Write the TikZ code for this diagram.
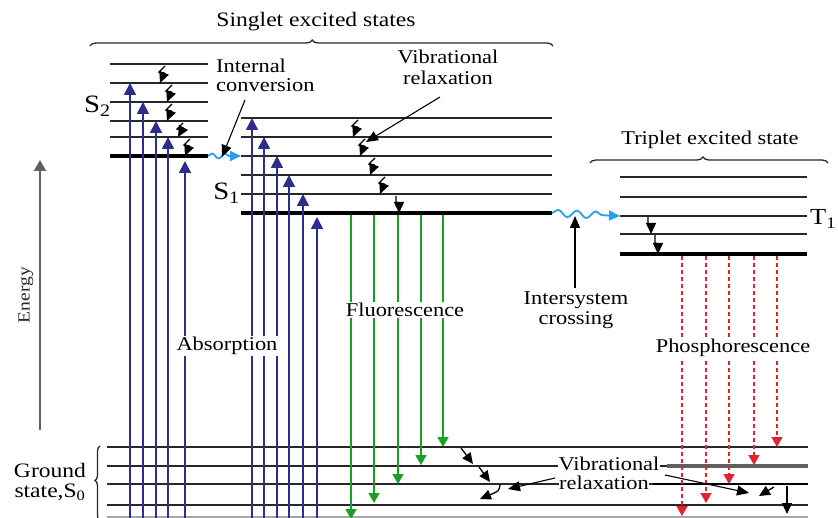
\documentclass[tikz,border=0pt]{standalone}
\usepackage{fontspec}
\setmainfont[FakeStretch=1.15]{Liberation Serif}
\usetikzlibrary{arrows.meta,decorations.pathmorphing,decorations.pathreplacing,calc}

\definecolor{absblue}{RGB}{45,45,140}
\definecolor{flgreen}{RGB}{25,160,40}
\definecolor{phred}{RGB}{225,35,45}
\definecolor{iscblue}{RGB}{40,160,235}
\definecolor{lvlgray}{RGB}{40,40,40}

\tikzset{
  lvl/.style={draw=lvlgray, line width=1.4pt},
  lvlthick/.style={draw=black, line width=3.4pt},
  absarrow/.style={draw=absblue, line width=1.7pt, -{Triangle[width=12pt,length=12pt]}},
  flarrow/.style={draw=flgreen, line width=1.6pt, -{Triangle[width=11pt,length=10pt]}},
  pharrow/.style={draw=phred, line width=1.7pt, dash pattern=on 4pt off 3pt, -{Triangle[width=11pt,length=10pt]}},
  vrarrow/.style={draw=black, line width=1.3pt, -{Triangle[width=10pt,length=11pt]}},
  callout/.style={draw=black, line width=1.1pt, -{Triangle[width=10pt,length=12pt]}},
  wavy/.style={draw=iscblue, line width=1.8pt, -{Triangle[width=10pt,length=11pt]}, decorate},
  lbl/.style={font=\fontsize{19.5}{21}\selectfont, inner sep=1pt},
  lblw/.style={lbl, fill=white},
  statelbl/.style={font=\fontsize{25}{27}\selectfont, inner sep=0pt},
  bracedec/.style={draw=lvlgray, line width=1.3pt, decorate},
}

% zig-zag relaxation arrow between two levels
\newcommand\relaxzig[3]{%
  \draw[vrarrow] ($(#1,#2)+(5,2)$) -- ($(#1,#2)+(-1,8)$) -- ($(#1,#2)+(4,9)$) -- (#1,#3);}

\begin{document}
\begin{tikzpicture}[x=1pt,y=-1pt]
\path[use as bounding box, fill=white] (0,0) rectangle (838,518);

% ---------------- energy axis ----------------
\draw[draw=gray!75!black, line width=2.4pt, -{Triangle[width=12pt,length=11pt]}] (40,430) coordinate (eA) -- (40,160) coordinate (eB);
\node[lbl, font=\fontsize{17}{18}\selectfont, rotate=90, text=black!85] (energy) at (26,295) {Energy};

% ---------------- ground state levels ----------------
\foreach \y in {447,466,484,505} \draw[lvl] (107,\y) -- (808,\y);
\draw[lvl, draw=gray!70] (107,517) -- (808,517);
\draw[draw=gray!75!black, line width=3.2pt] (667,466) -- (808,466);
\draw[draw=black, line width=2.6pt] (653,484) -- (808,484);

% ---------------- S2 levels ----------------
\foreach \y in {64,83,102,121,137} \draw[lvl] (110,\y) -- (208,\y);
\draw[lvlthick] (110,156) coordinate (s2L) -- (208,156) coordinate (s2R);

% ---------------- S1 levels ----------------
\foreach \y in {118,137,156,175,194} \draw[lvl] (241,\y) -- (552,\y);
\draw[lvlthick] (241,213) coordinate (s1L) -- (552,213) coordinate (s1R);

% ---------------- T1 levels ----------------
\foreach \y in {177,197,216,234} \draw[lvl] (620,\y) -- (807,\y);
\draw[lvlthick] (620,254) coordinate (t1L) -- (807,254) coordinate (t1R);
\coordinate (t1in) at (620,216);

% ---------------- absorption ----------------
\foreach \x/\y in {130/83,143/102,156/121,168/137,185/161,
                   252/118,264/137,277/156,289/175,303/194,317/217}
  \draw[absarrow] (\x,520) -- (\x,\y);

% ---------------- fluorescence ----------------
\foreach \x/\y in {351/519,374/503,398/484,421/465,443/447}
  \draw[flarrow] (\x,215) -- (\x,\y);

% ---------------- phosphorescence ----------------
\foreach \x/\y in {682/516,706/503,729/484,754/465,777/447}
  \draw[pharrow] (\x,256) -- (\x,\y);

% ---------------- vibrational relaxation ----------------
\relaxzig{160}{64}{83}
\relaxzig{167}{83}{102}
\relaxzig{167}{102}{121}
\relaxzig{178}{121}{137}
\relaxzig{185}{137}{156}

\relaxzig{353}{118}{137}
\relaxzig{360}{137}{156}
\relaxzig{370}{156}{175}
\relaxzig{380}{175}{194}
\draw[vrarrow] (396,196) -- (396,202) -- (399,203) -- (399,213);

\draw[vrarrow] (648,217) -- (648,224) -- (651,225) -- (651,234);
\draw[vrarrow] (655,235) -- (655,243) -- (658,244) -- (658,254);

% ground-state relaxation
\draw[vrarrow] (461,448) -- (473,464);
\draw[vrarrow] (479,467) -- (490,482);
\draw[vrarrow] (500,485) .. controls (499,491) .. (480,499);
\draw[vrarrow] (774,487) -- (759,496);
\draw[vrarrow] (787,486) -- (787,514);

% ---------------- wavy crossings ----------------
\draw[wavy, decoration={snake, amplitude=2.5pt, segment length=13pt, post length=10pt}] (s2R) -- (s1L |- s2R);
\draw[wavy, decoration={snake, amplitude=3.5pt, segment length=19pt, post length=16pt}] (s1R) -- (t1in);

% ---------------- braces ----------------
\draw[bracedec, decoration={brace, amplitude=6pt, aspect=0.48}] (90,46) -- (553,46);
\draw[bracedec, decoration={brace, amplitude=6pt, aspect=0.475}] (590,163) -- (828,163);
\draw[bracedec, decoration={brace, amplitude=5pt, aspect=0.54}] (100,521) -- (100,446);

% ---------------- labels ----------------
\node[lbl, font=\fontsize{20.5}{22}\selectfont] (singlet) at (316,22) {Singlet excited states};
\node[lbl] (triplet) at (710,140) {Triplet excited state};
\node[lbl, align=left, anchor=north west, font=\fontsize{19.5}{19}\selectfont] (ic) at (215,58) {Internal\\conversion};
\node[lbl, align=center, font=\fontsize{19.5}{21}\selectfont] (vrtop) at (448,67) {Vibrational\\relaxation};
\node[lbl, align=center, font=\fontsize{19.5}{20}\selectfont] (isc) at (576,310) {Intersystem\\crossing};
\node[lblw] (abs) at (227,346) {Absorption};
\node[lblw] (fluo) at (405,310) {Fluorescence};
\node[lblw] (phos) at (733,348) {Phosphorescence};
\node[lblw, inner sep=0.5pt] (vrb1) at (609,464) {Vibrational};
\node[lblw, inner sep=0.5pt] (vrb2) at (604,483) {relaxation};
\node[lbl, align=center, font=\fontsize{20.5}{20}\selectfont] (ground) at (50,482) {Ground\\state,S\textsubscript{0}};

\node[statelbl, anchor=east] (S2) at (111,106) {S\textsubscript{2}};
\node[statelbl, anchor=east] (S1) at (240,193) {S\textsubscript{1}};
\node[statelbl, anchor=west, font=\fontsize{23}{25}\selectfont] (T1) at (810,219) {T\textsubscript{1}};

% ---------------- callout arrows ----------------
\draw[callout] (245,100) -- (222,157);
\draw[callout] (440,97) -- (366,142);
\draw[callout] (575,288) -- (575,216);
\draw[callout] (555,478) -- (508,489);
\draw[callout] (665,475) -- (749,493);

\end{tikzpicture}
\end{document}
